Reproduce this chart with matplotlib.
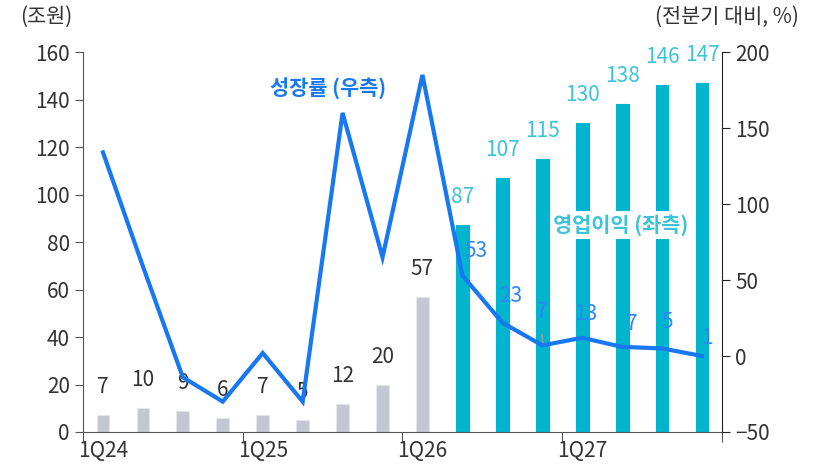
import matplotlib.pyplot as plt
import matplotlib as mpl

# data
quarters = ['1Q24', '2Q24', '3Q24', '4Q24', '1Q25', '2Q25', '3Q25', '4Q25',
            '1Q26', '2Q26', '3Q26', '4Q26', '1Q27', '2Q27', '3Q27', '4Q27']
profit = [7, 10, 9, 6, 7, 5, 12, 20, 57, 87, 107, 115, 130, 138, 146, 147]
growth = [134, 59, -14, -30, 2, -30, 160, 65, 185, 53, 22, 7, 12, 6, 5, 0]
growth_labels = ['', '', '', '', '', '', '', '', '', '53', '23', '7', '13', '7', '5', '1']
n_actual = 9  # gray bars up to 1Q26

GRAY = '#c4c6d2'
TEAL = '#00b5cd'
BLUE = '#1778f2'
BLUE_TXT = '#2f86f2'
TEAL_TXT = '#3cc3d8'
DARK = '#333333'

plt.rcParams['font.family'] = ['Noto Sans CJK KR', 'DejaVu Sans']
plt.rcParams['font.size'] = 15
plt.rcParams['font.weight'] = 'light'


def main():
    fig = plt.figure(figsize=(8.17, 4.69), dpi=100)
    ax = fig.add_axes([0.1016, 0.0789, 0.7821, 0.8100])
    ax2 = ax.twinx()

    x = list(range(len(quarters)))
    colors = [GRAY if i < n_actual else TEAL for i in x]
    edges = ['#e4e5ec' if i < n_actual else TEAL for i in x]
    ax.bar(x, profit, width=0.32, color=colors, edgecolor=edges, linewidth=0.8, zorder=2)

    for i, v in enumerate(profit):
        c = DARK if i < n_actual else TEAL_TXT
        ax.annotate(str(v), (i, v), xytext=(0, 28), textcoords='offset pixels',
                    ha='center', va='center', color=c, fontsize=15, zorder=3)

    ax.set_xlim(-0.5, len(quarters) - 0.5)
    ax.set_ylim(0, 160)
    ax.set_yticks(range(0, 161, 20))
    ax.set_xticks([-0.5, 3.5, 7.5, 11.5, 15.5])
    ax.set_xticklabels([])
    ax.set_xticks([0, 4, 8, 12], minor=True)
    ax.set_xticklabels([quarters[i] for i in (0, 4, 8, 12)], minor=True)
    ax.tick_params(axis='x', which='minor', length=0, pad=6, labelcolor=DARK)
    ax.tick_params(axis='x', which='major', direction='out', length=7, color='#555555')
    ax.tick_params(axis='y', direction='out', length=6, color='#555555', labelcolor=DARK)

    for s in ['top', 'right']:
        ax.spines[s].set_visible(False)
    ax.spines['left'].set_color('#555555')
    ax.spines['bottom'].set_color('#555555')

    # growth line on right axis
    ax2.plot(x, growth, color=BLUE, lw=3, solid_joinstyle='miter', zorder=4)
    offsets = {9: (14, -24), 10: (8, -27), 11: (0, -33), 12: (4, -24),
               13: (10, -23), 14: (5, -26), 15: (5, -18)}
    for i, lab in enumerate(growth_labels):
        if lab:
            dx, dy = offsets[i]
            ax2.annotate(lab, (i, growth[i]), xytext=(dx, -dy), textcoords='offset pixels',
                         ha='center', va='center', color=BLUE_TXT, fontsize=15, zorder=5)
    # leader line for the 4Q26 label
    ax2.annotate('', (11, growth[11]), xytext=(11, growth[11] + 9),
                 arrowprops=dict(arrowstyle='-', color='#999999', lw=1.2))

    ax2.set_ylim(-50, 200)
    ax2.set_yticks(range(-50, 201, 50))
    ax2.set_yticklabels(['\u221250'] + [str(v) for v in range(0, 201, 50)])
    ax2.tick_params(axis='y', direction='out', length=6, color='#222222', labelcolor=DARK)
    for s in ['top', 'left', 'bottom']:
        ax2.spines[s].set_visible(False)
    ax2.spines['right'].set_color('#222222')
    ax2.set_zorder(ax.get_zorder() + 1)
    ax2.patch.set_visible(False)

    # series labels
    fig.text(328 / 817, 1 - 89 / 469, '성장률 (우측)', color=BLUE, fontsize=15,
             fontweight='bold', ha='center', va='center')
    fig.text(621 / 817, 1 - 225 / 469, '영업이익 (좌측)', color=TEAL_TXT, fontsize=15,
             fontweight='bold', ha='center', va='center', zorder=10,
             bbox=dict(boxstyle='square,pad=0.15', fc='white', ec='none'))

    # axis units
    fig.text(46 / 817, 1 - 17 / 469, '(조원)', color=DARK, fontsize=15, ha='center', va='center')
    fig.text(727 / 817, 1 - 17 / 469, '(전분기 대비, %)', color=DARK, fontsize=15,
             ha='center', va='center')

    fig.savefig('out.png', dpi=100)


if __name__ == '__main__':
    main()
